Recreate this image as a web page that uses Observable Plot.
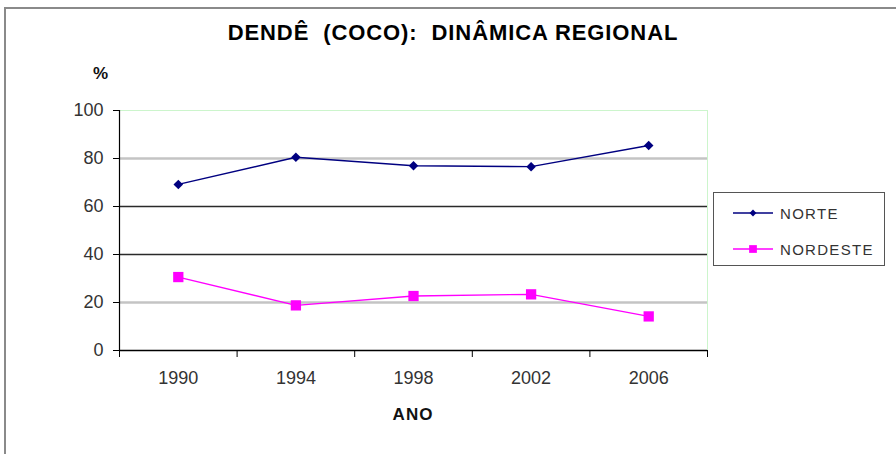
<!DOCTYPE html>
<html>
<head>
<meta charset="utf-8">
<script src="https://cdn.jsdelivr.net/npm/d3@7"></script>
<script src="https://cdn.jsdelivr.net/npm/@observablehq/plot@0.6"></script>
<style>
  html, body { margin: 0; padding: 0; background: #fff; }
  #wrap { position: relative; width: 896px; height: 454px; overflow: hidden; background: #fff;
          font-family: "Liberation Sans", Arial, sans-serif; }
  #frame { position: absolute; left: 4px; top: 7px; width: 900px; height: 460px;
           border-top: 2px solid #8a8a8a; border-left: 2px solid #8a8a8a; }
  #chart { position: absolute; left: 0; top: 0; }
  .title { position: absolute; left: 0; width: 906px; top: 21px; text-align: center;
           font-weight: bold; font-size: 22px; line-height: 24px; letter-spacing: 0.9px; color: #000; }
  .pct { position: absolute; left: 93px; top: 64px; font-weight: bold; font-size: 17px; line-height: 20px; color: #111; }
  .xlab { position: absolute; left: 373px; width: 80px; top: 405px; text-align: center;
          font-weight: bold; font-size: 17px; line-height: 20px; letter-spacing: 1px; color: #111; }
  #legend { position: absolute; left: 713px; top: 192px; width: 170px; height: 72px;
            border: 1.5px solid #555; background: #fff; }
  #legend .row { position: absolute; left: 0; height: 20px; display: flex; align-items: center; }
  #legend .row span { font-size: 15px; letter-spacing: 1.3px; color: #333; margin-left: 4px; }
</style>
</head>
<body>
<div id="wrap">
  <div id="frame"></div>
  <div id="chart"></div>
  <div class="title">DENDÊ&nbsp; (COCO):&nbsp; DINÂMICA REGIONAL</div>
  <div class="pct">%</div>
  <div class="xlab">ANO</div>
  <div id="legend"></div>
</div>
<script>
// ---- data ----
const years = [1990, 1994, 1998, 2002, 2006];
const norte = [69.2, 80.5, 77.0, 76.6, 85.4];
const nordeste = [30.6, 18.8, 22.7, 23.4, 14.2];
const seriesNames = ["NORTE", "NORDESTE"];
const yTicks = [0, 20, 40, 60, 80, 100];
const gridLight = [20, 80];
const gridDark = [40, 60];
const xBounds = [1988, 1992, 1996, 2000, 2004, 2008];

const colors = { NORTE: "#000080", NORDESTE: "#ff00ff" };

const rowsN = years.map((yr, i) => ({ year: yr, value: norte[i] }));
const rowsNE = years.map((yr, i) => ({ year: yr, value: nordeste[i] }));

const plot = Plot.plot({
  width: 896,
  height: 454,
  marginLeft: 119,
  marginRight: 189,
  marginTop: 110,
  marginBottom: 104,
  x: { domain: [xBounds[0], xBounds[xBounds.length - 1]] },
  y: { domain: [0, 100] },
  style: { fontFamily: "'Liberation Sans', Arial, sans-serif", fontSize: "18px", color: "#333", background: "transparent", overflow: "visible" },
  marks: [
    Plot.ruleY(gridLight, { stroke: "#c4c4c4", strokeWidth: 2.5 }),
    Plot.ruleY(gridDark, { stroke: "#2a2a2a", strokeWidth: 1.5 }),
    Plot.ruleY([100], { stroke: "#ccf5cc", strokeWidth: 1 }),
    Plot.ruleX([xBounds[xBounds.length - 1]], { stroke: "#ccf5cc", strokeWidth: 1 }),
    Plot.axisY({ ticks: yTicks, tickSize: 6, tickPadding: 10, label: null, stroke: "#000", tickFormat: d => String(d), letterSpacing: "0.6px" }),
    Plot.ruleX([xBounds[0]], { stroke: "#000", strokeWidth: 1.2 }),
    Plot.axisX({ ticks: xBounds, tickSize: 7, tickFormat: () => "", label: null, stroke: "#000" }),
    Plot.ruleY([0], { stroke: "#000", strokeWidth: 1.5 }),
    Plot.axisX({ ticks: years, tickSize: 0, tickPadding: 21, tickFormat: d => String(d), label: null, letterSpacing: "0.6px" }),
    Plot.lineY(rowsN, { x: "year", y: "value", stroke: colors.NORTE, strokeWidth: 1.4 }),
    Plot.dot(rowsN, { x: "year", y: "value", symbol: "diamond2", r: 4.3, fill: colors.NORTE, stroke: "none" }),
    Plot.lineY(rowsNE, { x: "year", y: "value", stroke: colors.NORDESTE, strokeWidth: 1.3 }),
    Plot.dot(rowsNE, { x: "year", y: "value", symbol: "square", r: 5.8, fill: colors.NORDESTE, stroke: "none" })
  ]
});
document.getElementById("chart").appendChild(plot);

// ---- legend ----
const legend = document.getElementById("legend");
const sizes = { NORTE: 30, NORDESTE: 60 };
seriesNames.forEach((name, i) => {
  const row = document.createElement("div");
  row.className = "row";
  row.style.top = (i === 0 ? 10 : 46) + "px";
  const svg = d3.create("svg").attr("width", 62).attr("height", 20);
  svg.append("line").attr("x1", 19).attr("x2", 59).attr("y1", 10).attr("y2", 10)
     .attr("stroke", colors[name]).attr("stroke-width", 1.4);
  svg.append("path").attr("transform", "translate(39,10)")
     .attr("d", d3.symbol(name === "NORTE" ? d3.symbolDiamond2 : d3.symbolSquare, sizes[name])())
     .attr("fill", colors[name]);
  row.appendChild(svg.node());
  const span = document.createElement("span");
  span.textContent = name;
  row.appendChild(span);
  legend.appendChild(row);
});
</script>
</body>
</html>
